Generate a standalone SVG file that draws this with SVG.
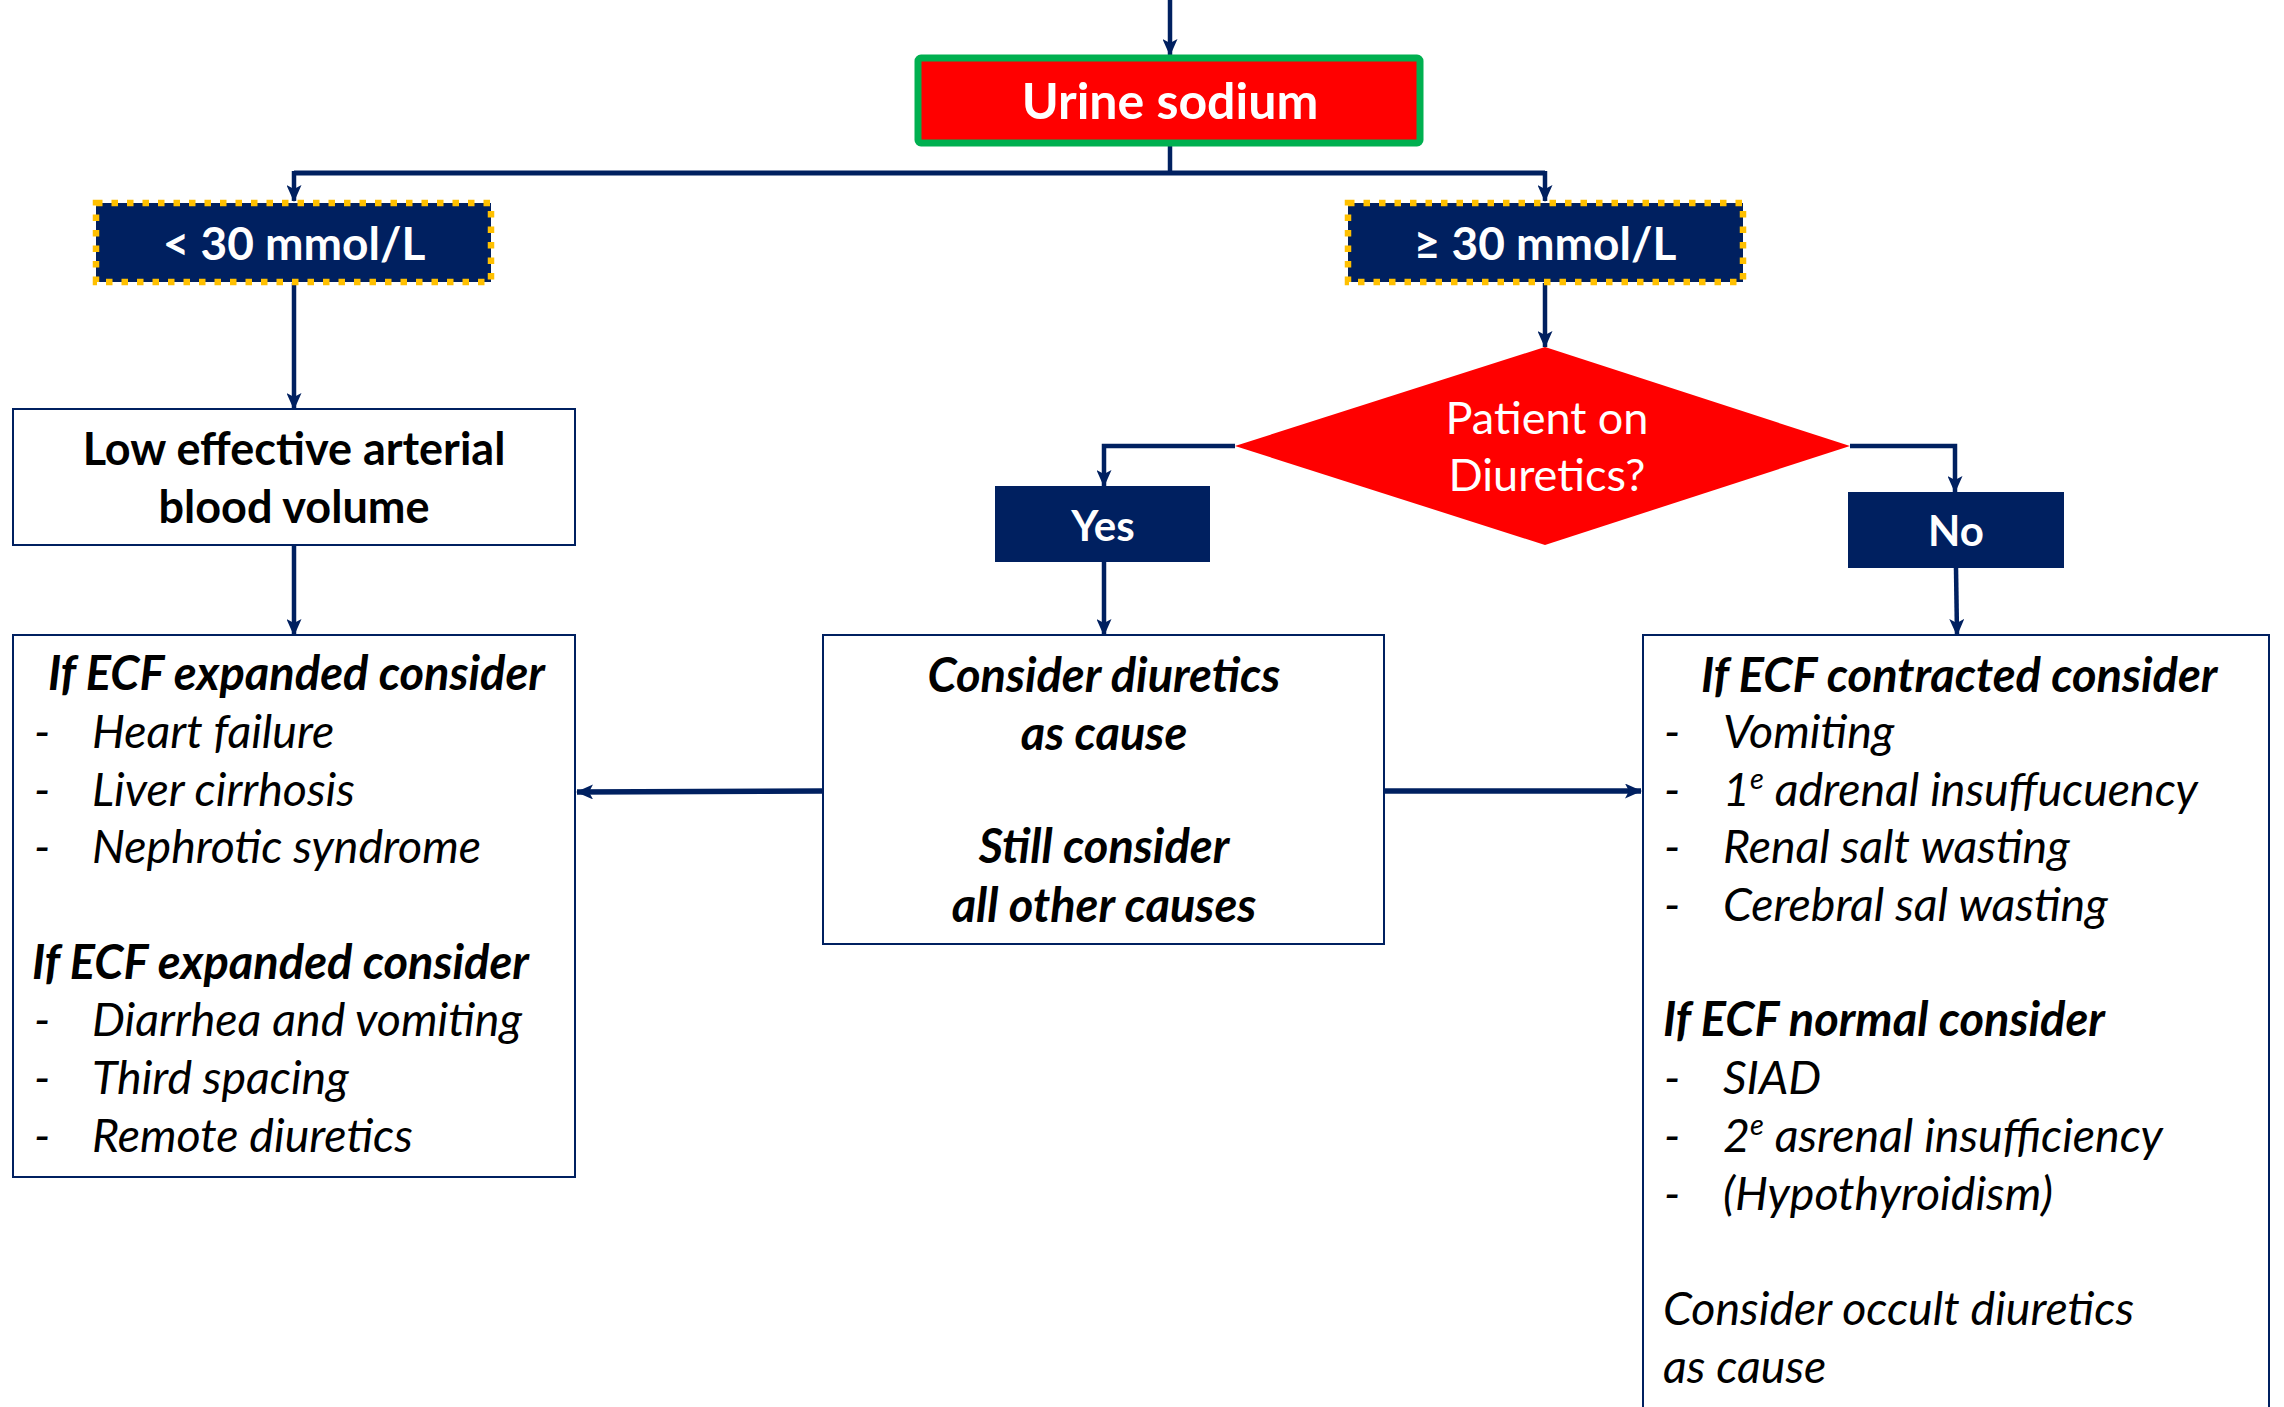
<svg xmlns="http://www.w3.org/2000/svg" width="2284" height="1407" viewBox="0 0 2284 1407">
<style>
  .box { fill: #FFFFFF; stroke: #002060; stroke-width: 2; }
  .navy { fill: #002060; }
  .thr { fill: #002060; stroke: #FFC000; stroke-width: 6.5; stroke-dasharray: 6.5 9; }
  .conn { fill: none; stroke: #002060; stroke-width: 4.5; }
  .wb { font-family: Lato, "Open Sans", sans-serif; font-weight: bold; fill: #FFFFFF; text-anchor: middle; }
  .wr { font-family: Lato, "Open Sans", sans-serif; font-weight: normal; fill: #FFFFFF; text-anchor: middle; }
  .bb { font-family: Lato, "Open Sans", sans-serif; font-weight: bold; fill: #000000; text-anchor: middle; }
  .bi { font-family: Lato, "Open Sans", sans-serif; font-weight: bold; font-style: italic; fill: #000000; font-size: 47px; }
  .it { font-family: Lato, "Open Sans", sans-serif; font-style: italic; fill: #000000; font-size: 46.5px; }
</style>
<defs>
  <marker id="arr" markerUnits="userSpaceOnUse" markerWidth="17" markerHeight="15" refX="16" refY="7.5" orient="auto">
    <path d="M0,0 L17,7.5 L0,15 L4,7.5 Z" fill="#002060"/>
  </marker>
</defs>

<g id="connectors">
  <line class="conn" x1="1170" y1="0" x2="1170" y2="55" marker-end="url(#arr)"/>
  <polyline class="conn" points="1170,146 1170,173" />
  <polyline class="conn" points="294,173 1545,173" style="stroke-width:5"/>
  <polyline class="conn" points="294,171 294,201" marker-end="url(#arr)"/>
  <polyline class="conn" points="1545,171 1545,201" marker-end="url(#arr)"/>
  <line class="conn" x1="294" y1="283" x2="294" y2="409" marker-end="url(#arr)"/>
  <line class="conn" x1="294" y1="545" x2="294" y2="635" marker-end="url(#arr)"/>
  <line class="conn" x1="1545" y1="283" x2="1545" y2="347" marker-end="url(#arr)"/>
  <polyline class="conn" points="1235,446 1104,446 1104,486" marker-end="url(#arr)"/>
  <polyline class="conn" points="1850,446 1955,446 1955,492" marker-end="url(#arr)"/>
  <line class="conn" x1="1104" y1="562" x2="1104" y2="635" marker-end="url(#arr)"/>
  <line class="conn" x1="1956" y1="568" x2="1957" y2="635" marker-end="url(#arr)"/>
  <line class="conn" x1="823" y1="791" x2="577" y2="792" marker-end="url(#arr)" style="stroke-width:5.5"/>
  <line class="conn" x1="1384" y1="791" x2="1641" y2="791" marker-end="url(#arr)" style="stroke-width:5.5"/>
</g>

<g id="urine-sodium">
  <rect x="918" y="58" width="502" height="85" rx="3" fill="#FF0000" stroke="#00B050" stroke-width="7"/>
  <text class="wb" x="1170" y="119" font-size="50">Urine sodium</text>
</g>

<g id="lt30">
  <rect class="thr" x="96" y="203" width="395" height="79"/>
  <text class="wb" x="294" y="260" font-size="46">&lt; 30 mmol/L</text>
</g>

<g id="ge30">
  <rect class="thr" x="1348" y="203" width="395" height="79"/>
  <text class="wb" x="1545" y="260" font-size="46">≥ 30 mmol/L</text>
</g>

<g id="low-eabv">
  <rect class="box" x="13" y="409" width="562" height="136"/>
  <text class="bb" x="294" y="465" font-size="45">Low effective arterial</text>
  <text class="bb" x="294" y="523" font-size="45">blood volume</text>
</g>

<g id="diuretics-decision">
  <polygon points="1545,347 1850,446 1545,545 1235,446" fill="#FF0000"/>
  <text class="wr" x="1547" y="434" font-size="45">Patient on</text>
  <text class="wr" x="1547" y="491" font-size="45">Diuretics?</text>
</g>

<g id="yes">
  <rect class="navy" x="995" y="486" width="215" height="76"/>
  <text class="wb" x="1103" y="541" font-size="42">Yes</text>
</g>

<g id="no">
  <rect class="navy" x="1848" y="492" width="216" height="76"/>
  <text class="wb" x="1956" y="546" font-size="42">No</text>
</g>

<g id="left-causes">
  <rect class="box" x="13" y="635" width="562" height="542"/>
  <text class="bi" x="48" y="690">If ECF expanded consider</text>
  <text class="it"><tspan x="34" y="748">-</tspan><tspan x="92" y="748">Heart failure</tspan></text>
  <text class="it"><tspan x="34" y="806">-</tspan><tspan x="92" y="806">Liver cirrhosis</tspan></text>
  <text class="it"><tspan x="34" y="863">-</tspan><tspan x="92" y="863">Nephrotic syndrome</tspan></text>
  <text class="bi" x="32" y="979">If ECF expanded consider</text>
  <text class="it"><tspan x="34" y="1036">-</tspan><tspan x="92" y="1036">Diarrhea and vomiting</tspan></text>
  <text class="it"><tspan x="34" y="1094">-</tspan><tspan x="92" y="1094">Third spacing</tspan></text>
  <text class="it"><tspan x="34" y="1152">-</tspan><tspan x="92" y="1152">Remote diuretics</tspan></text>
</g>

<g id="middle-diuretics">
  <rect class="box" x="823" y="635" width="561" height="309"/>
  <text class="bi" x="1104" y="692" text-anchor="middle">Consider diuretics</text>
  <text class="bi" x="1104" y="750" text-anchor="middle">as cause</text>
  <text class="bi" x="1104" y="863" text-anchor="middle">Still consider</text>
  <text class="bi" x="1104" y="922" text-anchor="middle">all other causes</text>
</g>

<g id="right-causes">
  <rect class="box" x="1643" y="635" width="626" height="800"/>
  <text class="bi" x="1701" y="692">If ECF contracted consider</text>
  <text class="it"><tspan x="1664" y="748">-</tspan><tspan x="1723" y="748">Vomiting</tspan></text>
  <text class="it"><tspan x="1664" y="806">-</tspan><tspan x="1723" y="806">1</tspan><tspan font-size="29" dy="-17">e</tspan><tspan dy="17"> adrenal insuffucuency</tspan></text>
  <text class="it"><tspan x="1664" y="863">-</tspan><tspan x="1723" y="863">Renal salt wasting</tspan></text>
  <text class="it"><tspan x="1664" y="921">-</tspan><tspan x="1723" y="921">Cerebral sal wasting</tspan></text>
  <text class="bi" x="1663" y="1036">If ECF normal consider</text>
  <text class="it"><tspan x="1664" y="1094">-</tspan><tspan x="1723" y="1094">SIAD</tspan></text>
  <text class="it"><tspan x="1664" y="1152">-</tspan><tspan x="1723" y="1152">2</tspan><tspan font-size="29" dy="-17">e</tspan><tspan dy="17"> asrenal insufficiency</tspan></text>
  <text class="it"><tspan x="1664" y="1210">-</tspan><tspan x="1723" y="1210">(Hypothyroidism)</tspan></text>
  <text class="it" x="1663" y="1325">Consider occult diuretics</text>
  <text class="it" x="1663" y="1383">as cause</text>
</g>
</svg>
